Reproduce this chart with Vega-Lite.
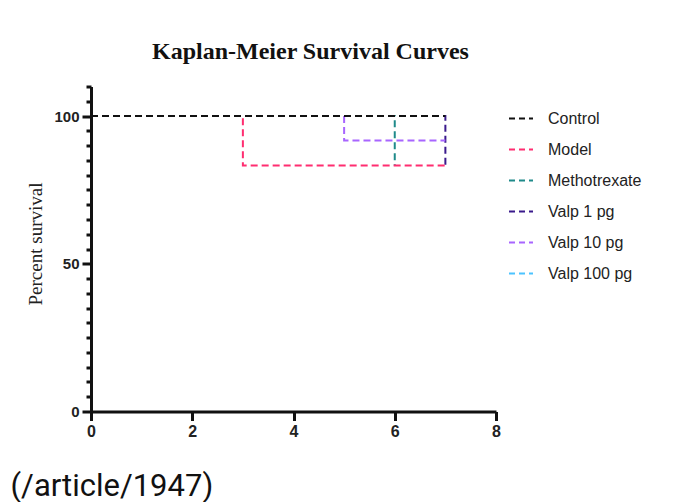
{
  "$schema": "https://vega.github.io/schema/vega-lite/v6.json",
  "autosize": "none",
  "padding": {"left": 91, "top": 86.5, "right": 195, "bottom": 90.5},
  "width": 405,
  "height": 325,
  "background": "white",
  "config": {"view": {"stroke": null}},
  "title": {
    "text": "Kaplan-Meier Survival Curves",
    "font": "Liberation Serif",
    "fontSize": 24,
    "fontWeight": "bold",
    "color": "#111111",
    "anchor": "start",
    "frame": "group",
    "dx": 61,
    "baseline": "alphabetic",
    "offset": 2
  },
  "data": {
    "values": [
      {"group": "Valp 100 pg", "day": 0, "survival": 100},
      {"group": "Valp 100 pg", "day": 7, "survival": 100},
      {"group": "Methotrexate", "day": 0, "survival": 100},
      {"group": "Methotrexate", "day": 6, "survival": 83.3},
      {"group": "Valp 1 pg", "day": 0, "survival": 100},
      {"group": "Valp 1 pg", "day": 7, "survival": 83.3},
      {"group": "Model", "day": 0, "survival": 100},
      {"group": "Model", "day": 3, "survival": 83.3},
      {"group": "Model", "day": 7, "survival": 83.3},
      {"group": "Valp 10 pg", "day": 0, "survival": 100},
      {"group": "Valp 10 pg", "day": 5, "survival": 91.7},
      {"group": "Valp 10 pg", "day": 7, "survival": 91.7},
      {"group": "Control", "day": 0, "survival": 100},
      {"group": "Control", "day": 7, "survival": 100}
    ]
  },
  "mark": {"type": "line", "interpolate": "step-after", "strokeWidth": 2, "strokeDash": [7, 4], "clip": false},
  "encoding": {
    "x": {
      "field": "day",
      "type": "quantitative",
      "scale": {"domain": [0, 8], "nice": false, "zero": false},
      "axis": {
        "values": [0, 2, 4, 6, 8],
        "grid": false,
        "labelFlush": false,
        "domainColor": "#111111",
        "domainWidth": 3,
        "tickColor": "#111111",
        "tickWidth": 3,
        "tickSize": 9,
        "labelFont": "Liberation Sans",
        "labelFontSize": 16,
        "labelFontWeight": "bold",
        "labelColor": "#222222",
        "labelPadding": 3,
        "title": "(/article/1947)",
        "titleFont": "Roboto",
        "titleFontSize": 31,
        "titleFontWeight": "normal",
        "titleColor": "#111111",
        "titleX": -81,
        "titleY": 83.5,
        "titleAlign": "left",
        "titleAnchor": "start",
        "titleBaseline": "alphabetic"
      }
    },
    "y": {
      "field": "survival",
      "type": "quantitative",
      "scale": {"domain": [0, 110], "nice": false},
      "axis": {
        "values": [0, 5, 10, 15, 20, 25, 30, 35, 40, 45, 50, 55, 60, 65, 70, 75, 80, 85, 90, 95, 100, 105, 110],
        "labelExpr": "datum.value % 50 === 0 ? datum.label : ''",
        "grid": false,
        "labelFlush": false,
        "domainColor": "#111111",
        "domainWidth": 3,
        "tickColor": "#111111",
        "tickWidth": 3,
        "tickSize": {"condition": {"test": "datum.value % 50 === 0", "value": 9}, "value": 5},
        "labelFont": "Liberation Sans",
        "labelFontSize": 15,
        "labelFontWeight": "bold",
        "labelColor": "#222222",
        "labelPadding": 3,
        "title": "Percent survival",
        "titleFont": "Liberation Serif",
        "titleFontSize": 19,
        "titleFontWeight": "normal",
        "titleColor": "#222222",
        "titleX": -56,
        "titleY": 157,
        "titleAngle": -90,
        "titleAlign": "center",
        "titleBaseline": "middle"
      }
    },
    "color": {
      "field": "group",
      "type": "nominal",
      "scale": {
        "domain": ["Control", "Model", "Methotrexate", "Valp 1 pg", "Valp 10 pg", "Valp 100 pg"],
        "range": ["#111111", "#ff2d70", "#1f8a8a", "#3a1a8c", "#a865ff", "#4cc3ff"]
      },
      "legend": {
        "orient": "none",
        "legendX": 417,
        "legendY": 19,
        "padding": 0,
        "title": null,
        "symbolType": "stroke",
        "symbolSize": 576,
        "symbolStrokeWidth": 2,
        "symbolDash": [6, 4],
        "labelFont": "Liberation Sans",
        "labelFontSize": 16,
        "labelColor": "#222222",
        "labelOffset": 14,
        "rowPadding": 10
      }
    }
  }
}
